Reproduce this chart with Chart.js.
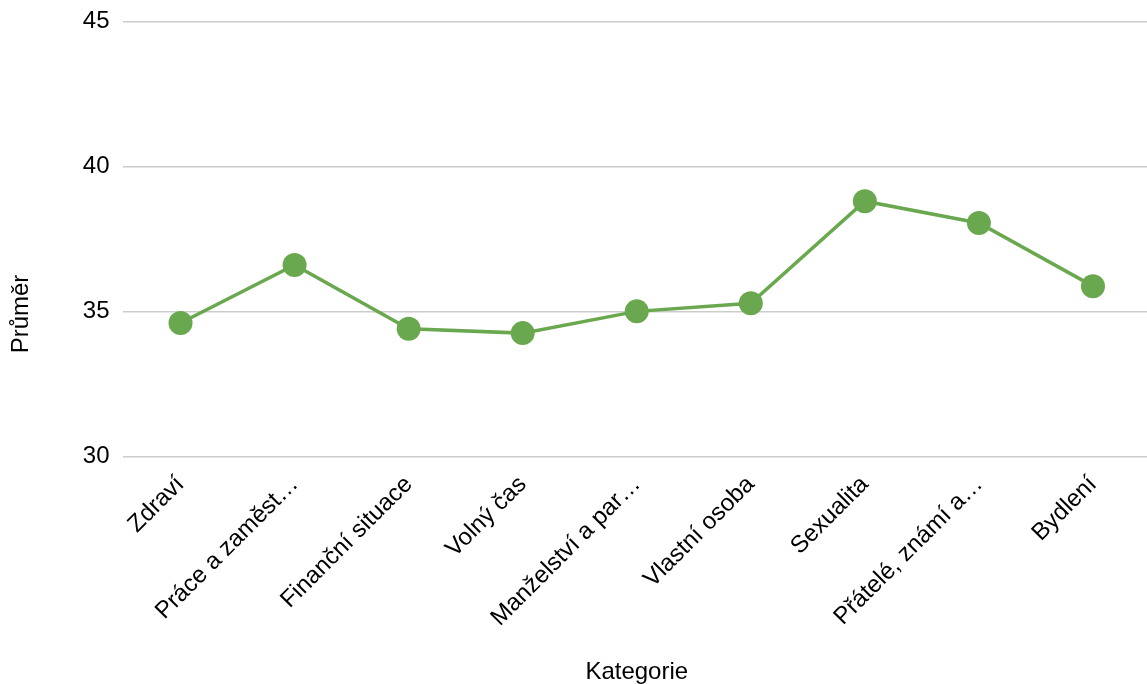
<!DOCTYPE html>
<html>
<head>
<meta charset="utf-8">
<script src="https://cdn.jsdelivr.net/npm/chart.js@4/dist/chart.umd.min.js"></script>
<style>
  html, body { margin: 0; padding: 0; background: #fff; overflow: hidden; }
  #wrap { width: 1162px; height: 698px; margin-top: -7px; position: relative; }
</style>
</head>
<body>
<div id="wrap"><canvas id="prumerChart"></canvas></div>
<script>
const categories = [
    "Zdraví",
    "Práce a zaměstnání",
    "Finanční situace",
    "Volný čas",
    "Manželství a partnerství",
    "Vlastní osoba",
    "Sexualita",
    "Přátelé, známí a příbuzní",
    "Bydlení"
];
// labels as they appear (cut off) on the axis
const tickLabels = [
    "Zdraví",
    "Práce a zaměst…",
    "Finanční situace",
    "Volný čas",
    "Manželství a par…",
    "Vlastní osoba",
    "Sexualita",
    "Přátelé, známí a…",
    "Bydlení"
];
const prumer = [34.6, 36.6, 34.4, 34.25, 35.0, 35.28, 38.8, 38.05, 35.87];
const yTicks = [30, 35, 40, 45];

const green = "#6aa84f";
const fontFamily = "'Liberation Sans', Arial, sans-serif";
const font = { family: fontFamily, size: 24 };

// y title sits lower than the axis middle in the original, so draw it ourselves
const yTitlePlugin = {
    id: "yTitle",
    afterDraw(chart) {
        const c = chart.ctx;
        c.save();
        c.translate(21, 321);
        c.rotate(-Math.PI / 2);
        c.fillStyle = "#000";
        c.font = "24px " + fontFamily;
        c.textAlign = "center";
        c.textBaseline = "middle";
        c.fillText("Průměr", 0, 0);
        c.restore();
    }
};

const ctx = document.getElementById("prumerChart").getContext("2d");

new Chart(ctx, {
    type: "line",
    data: {
        labels: categories,
        datasets: [{
            label: "Průměr",
            data: prumer,
            borderColor: green,
            backgroundColor: green,
            borderWidth: 3.5,
            pointRadius: 12,
            pointHoverRadius: 12,
            pointBorderWidth: 0,
            tension: 0
        }]
    },
    plugins: [yTitlePlugin],
    options: {
        responsive: true,
        maintainAspectRatio: false,
        animation: false,
        layout: { padding: { top: 0, right: 0, left: 2, bottom: 0 } },
        plugins: {
            legend: { display: false },
            tooltip: { enabled: false }
        },
        scales: {
            x: {
                offset: true,
                grid: { display: false },
                border: { display: false },
                ticks: {
                    color: "#000",
                    font: font,
                    autoSkip: false,
                    minRotation: 45,
                    maxRotation: 45,
                    padding: 6,
                    callback: (v, i) => tickLabels[i]
                },
                title: {
                    display: true,
                    text: "Kategorie",
                    color: "#000",
                    font: font,
                    padding: { top: 20 }
                }
            },
            y: {
                min: yTicks[0],
                max: yTicks[yTicks.length - 1],
                afterBuildTicks: (axis) => {
                    axis.ticks = yTicks.map(v => ({ value: v }));
                },
                grid: { color: "#cccccc", lineWidth: 1.5, drawTicks: false },
                border: { display: false },
                ticks: {
                    color: "#000",
                    font: font,
                    padding: 14
                },
                title: {
                    display: true,
                    text: "Průměr",
                    color: "rgba(0,0,0,0)",
                    font: font,
                    padding: { bottom: 34 }
                }
            }
        }
    }
});
</script>
</body>
</html>
